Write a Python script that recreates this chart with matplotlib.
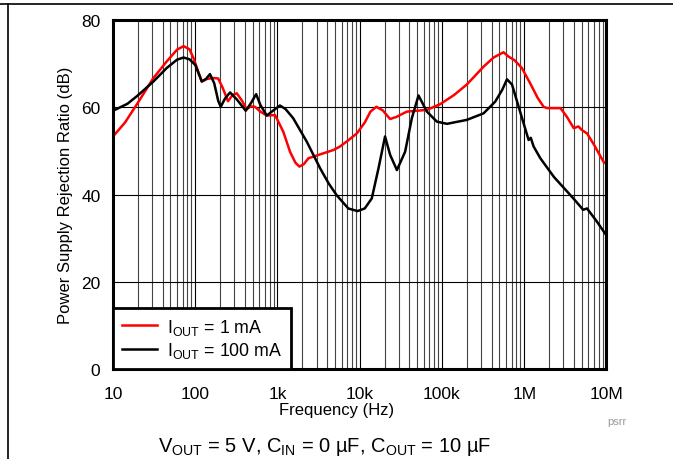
import matplotlib
matplotlib.use("Agg")
from matplotlib import pyplot as plt
from matplotlib.lines import Line2D
import numpy as np

plt.rcParams['font.family'] = ['Liberation Sans', 'DejaVu Sans']
plt.rcParams['mathtext.fontset'] = 'custom'
plt.rcParams['mathtext.rm'] = 'Liberation Sans'
plt.rcParams['mathtext.it'] = 'Liberation Sans:italic'
plt.rcParams['mathtext.bf'] = 'Liberation Sans:bold'

# I_OUT = 1 mA
freq_1mA = [10, 14, 20, 31, 45, 60, 72, 85, 95, 120, 140, 165, 190, 215, 250, 285, 320,
            370, 420, 480, 533, 620, 740, 935, 1175, 1420, 1650, 1845, 2100, 2375, 3300,
            4790, 5750, 7000, 9220, 11500, 13500, 15900, 19000, 23400, 28000, 37400,
            50000, 65500, 95000, 140e3, 200e3, 320e3, 424e3, 560e3, 645e3, 760e3, 935e3,
            1.18e6, 1.45e6, 1.72e6, 1.9e6, 2.76e6, 3.3e6, 4.0e6, 4.57e6, 5.0e6, 5.8e6,
            7.0e6, 9.2e6, 10e6]
psrr_1mA = [53.3, 56.5, 61.0, 66.7, 70.5, 73.2, 74.0, 73.3, 71.3, 65.9, 66.5, 66.7, 66.6,
            64.5, 61.4, 62.8, 63.2, 61.5, 59.6, 60.2, 60.1, 59.0, 58.1, 58.2, 54.4, 49.8,
            47.3, 46.4, 47.0, 48.3, 49.2, 50.2, 51.0, 52.2, 54.0, 56.5, 59.0, 60.1, 59.3,
            57.3, 57.8, 59.0, 59.2, 59.4, 60.7, 62.8, 65.2, 69.3, 71.4, 72.6, 71.6, 70.8,
            69.0, 65.5, 62.2, 60.1, 59.8, 59.8, 57.8, 55.2, 55.6, 54.8, 54.0, 51.5, 47.5,
            47.0]

# I_OUT = 100 mA
freq_100mA = [10, 15, 20, 31, 45, 60, 72, 85, 100, 120, 135, 151, 170, 190, 204, 230, 265,
              320, 411, 470, 550, 620, 740, 880, 1070, 1250, 1550, 2270, 3300, 4200, 5260,
              7260, 9400, 11500, 14000, 16900, 20300, 23400, 28300, 35600, 43000, 51800,
              65500, 86700, 115e3, 200e3, 320e3, 444e3, 540e3, 617e3, 710e3, 890e3,
              1.13e6, 1.2e6, 1.3e6, 1.57e6, 2.3e6, 4.0e6, 5.2e6, 5.8e6, 7.5e6, 10e6]
psrr_100mA = [59.2, 60.8, 62.7, 65.9, 69.0, 70.9, 71.4, 71.0, 69.7, 65.9, 66.5, 67.6, 65.5,
              61.5, 60.1, 62.0, 63.4, 61.8, 59.2, 60.8, 63.0, 60.5, 58.1, 59.2, 60.4, 59.6,
              57.5, 52.1, 46.0, 42.5, 39.8, 36.8, 36.2, 36.8, 39.1, 46.0, 53.3, 49.1, 45.6,
              49.8, 57.5, 62.7, 59.0, 56.7, 56.2, 57.1, 58.6, 61.3, 64.0, 66.4, 65.2, 59.0,
              52.5, 53.0, 51.0, 48.3, 44.0, 39.0, 36.5, 36.8, 34.0, 30.6]

xticks = [10, 100, 1e3, 1e4, 1e5, 1e6, 1e7]
xtick_labels = ['10', '100', '1k', '10k', '100k', '1M', '10M']
yticks = [0, 20, 40, 60, 80]

W, H = 673, 460
fig = plt.figure(figsize=(W / 100, H / 100), dpi=100)
ax = fig.add_axes([113 / W, 1 - 370 / H, (606.5 - 113) / W, (370 - 21) / H])

ax.semilogx(freq_1mA, psrr_1mA, color='#ff0000', lw=1.8, label=r'I$_{\mathrm{OUT}}$ = 1 mA')
ax.semilogx(freq_100mA, psrr_100mA, color='black', lw=1.8, label=r'I$_{\mathrm{OUT}}$ = 100 mA')

ax.set_xlim(10, 1e7)
ax.set_ylim(0, 80)
ax.set_xticks(xticks)
ax.set_xticklabels(xtick_labels)
ax.set_yticks(yticks)
ax.tick_params(axis='both', which='both', length=0, labelsize=12.5)
ax.tick_params(axis='x', pad=12)
ax.tick_params(axis='y', pad=9)

ax.grid(True, which='major', color='black', lw=0.8)
ax.grid(True, which='minor', axis='x', color='#444444', lw=0.8)
for s in ax.spines.values():
    s.set_linewidth(2.2)

ax.set_ylabel('Power Supply Rejection Ratio (dB)', fontsize=12, labelpad=6)

leg = ax.legend(loc='lower left', fontsize=12.8, fancybox=False, borderaxespad=0,
                handlelength=2.0, framealpha=1, edgecolor='black',
                labelspacing=0.2, borderpad=0.5, handletextpad=0.55)
leg.get_frame().set_linewidth(2)

fig.text(337 / W, 1 - 411 / H, 'Frequency (Hz)', ha='center', va='center', fontsize=12)
fig.text(617 / W, 1 - 422 / H, 'psrr', ha='center', va='center', fontsize=8, color='#999999')
fig.text(325 / W, 1 - 447 / H,
         r'V$_{\mathrm{OUT}}$ = 5 V, C$_{\mathrm{IN}}$ = 0 µF, C$_{\mathrm{OUT}}$ = 10 µF',
         ha='center', va='center', fontsize=14.5)

# page frame lines
fig.add_artist(Line2D([0, 1], [1 - 5 / H, 1 - 5 / H], color='black', lw=1.2,
                      transform=fig.transFigure))
fig.add_artist(Line2D([8 / W, 8 / W], [0, 1 - 5 / H], color='black', lw=1.2,
                      transform=fig.transFigure))

fig.savefig('out.png', dpi=100)
